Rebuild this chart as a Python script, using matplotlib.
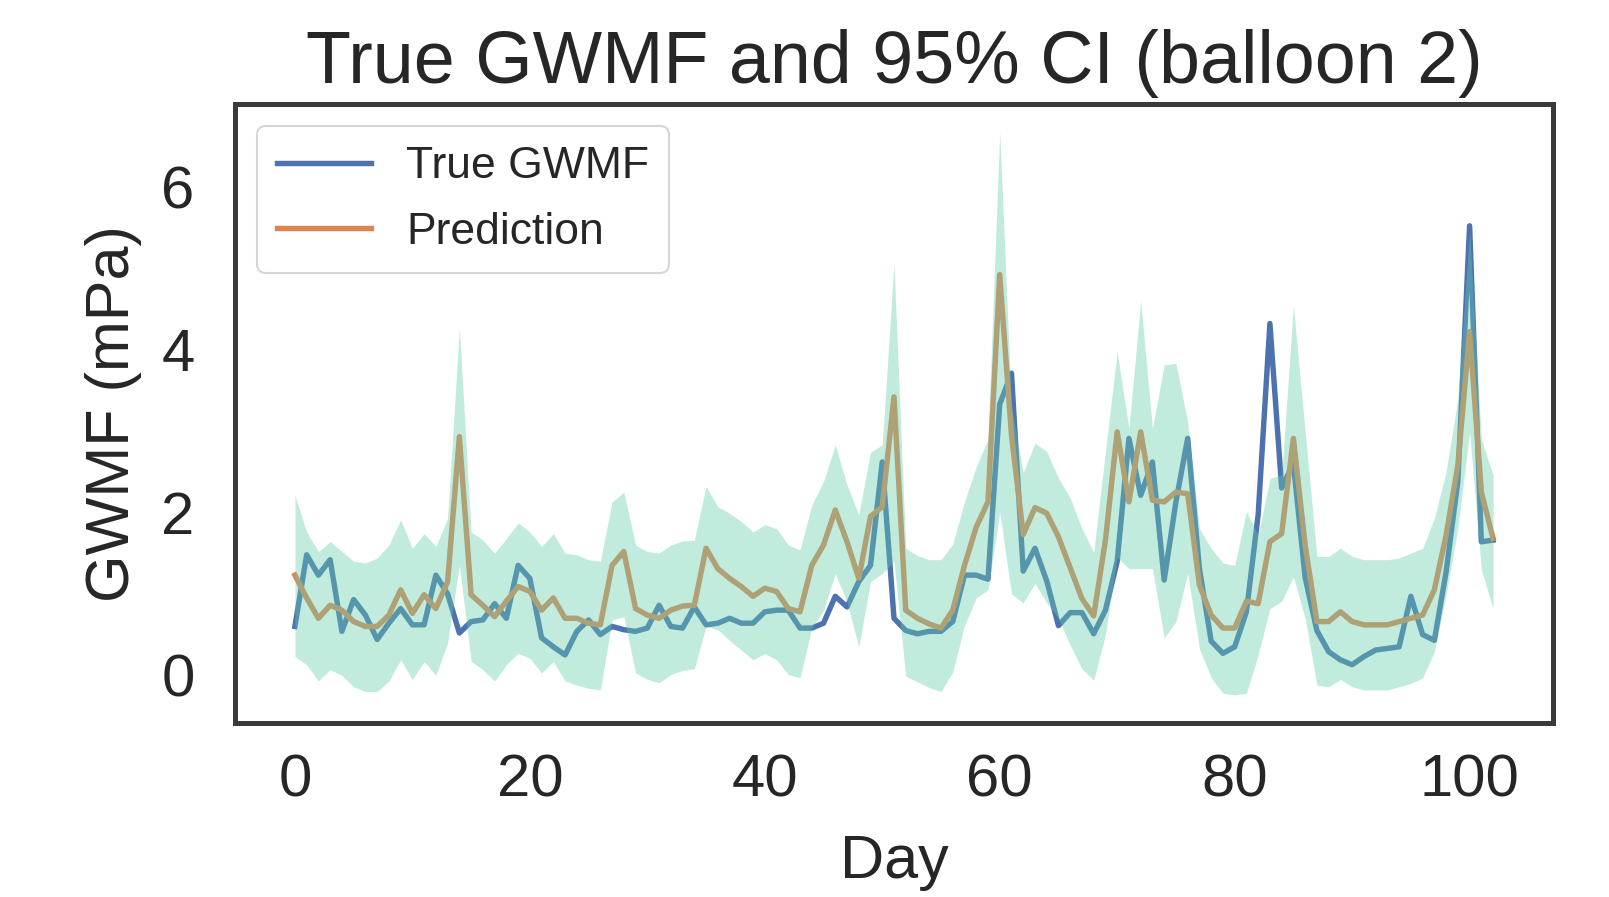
import matplotlib
matplotlib.use("Agg")
import matplotlib.pyplot as plt
import numpy as np

plt.rcParams['font.family'] = ['Liberation Sans', 'DejaVu Sans']

days = list(range(103))

true_gwmf = [
    0.60, 1.48, 1.23, 1.42, 0.54, 0.93, 0.74, 0.44, 0.64, 0.82,
    0.62, 0.62, 1.23, 1.00, 0.52, 0.66, 0.68, 0.88, 0.70, 1.35,
    1.19, 0.46, 0.35, 0.25, 0.54, 0.68, 0.50, 0.60, 0.56, 0.54,
    0.58, 0.86, 0.60, 0.58, 0.84, 0.62, 0.64, 0.70, 0.64, 0.64,
    0.78, 0.80, 0.80, 0.58, 0.58, 0.64, 0.97, 0.84, 1.15, 1.35,
    2.62, 0.70, 0.55, 0.51, 0.54, 0.54, 0.66, 1.23, 1.23, 1.18,
    3.33, 3.71, 1.28, 1.56, 1.16, 0.61, 0.77, 0.77, 0.51, 0.80,
    1.40, 2.91, 2.21, 2.62, 1.17, 2.13, 2.91, 1.31, 0.42, 0.27,
    0.35, 0.78, 1.97, 4.32, 2.30, 2.60, 1.20, 0.55, 0.29, 0.19,
    0.13, 0.23, 0.31, 0.33, 0.35, 0.97, 0.50, 0.43, 1.27, 2.38,
    5.52, 1.64, 1.66]

prediction = [
    1.23, 0.95, 0.70, 0.86, 0.80, 0.66, 0.60, 0.60, 0.74, 1.05,
    0.76, 0.99, 0.82, 1.15, 2.93, 0.99, 0.86, 0.72, 0.91, 1.09,
    1.03, 0.80, 0.95, 0.70, 0.70, 0.64, 0.62, 1.35, 1.52, 0.82,
    0.74, 0.70, 0.80, 0.85, 0.86, 1.56, 1.31, 1.19, 1.09, 0.97,
    1.07, 1.03, 0.82, 0.78, 1.35, 1.60, 2.03, 1.64, 1.19, 1.95,
    2.07, 3.42, 0.80, 0.70, 0.63, 0.58, 0.80, 1.35, 1.82, 2.13,
    4.92, 2.95, 1.73, 2.06, 1.99, 1.70, 1.32, 0.94, 0.73, 1.66,
    2.99, 2.13, 2.99, 2.15, 2.13, 2.25, 2.23, 1.11, 0.74, 0.58,
    0.58, 0.91, 0.88, 1.64, 1.74, 2.91, 1.60, 0.66, 0.66, 0.78,
    0.66, 0.62, 0.62, 0.62, 0.66, 0.70, 0.74, 1.05, 1.72, 2.58,
    4.22, 2.25, 1.68]

ci_upper = [
    2.21, 1.76, 1.52, 1.64, 1.52, 1.40, 1.38, 1.44, 1.60, 1.91,
    1.56, 1.74, 1.58, 1.93, 4.26, 1.76, 1.66, 1.50, 1.68, 1.87,
    1.76, 1.58, 1.74, 1.50, 1.48, 1.42, 1.40, 2.13, 2.25, 1.60,
    1.52, 1.50, 1.60, 1.65, 1.66, 2.32, 2.07, 1.99, 1.89, 1.76,
    1.85, 1.80, 1.60, 1.54, 2.09, 2.38, 2.83, 2.34, 1.97, 2.74,
    2.83, 5.05, 1.56, 1.47, 1.42, 1.42, 1.61, 2.13, 2.56, 2.90,
    6.67, 3.30, 2.49, 2.85, 2.75, 2.42, 2.18, 1.80, 1.51, 2.75,
    3.97, 3.03, 4.60, 3.03, 3.81, 3.83, 3.11, 1.80, 1.56, 1.38,
    1.35, 2.01, 1.72, 2.42, 2.46, 4.54, 2.99, 1.46, 1.46, 1.56,
    1.46, 1.42, 1.42, 1.42, 1.44, 1.50, 1.56, 1.93, 2.50, 3.40,
    5.45, 2.90, 2.46]

ci_lower = [
    0.23, 0.13, -0.07, 0.07, 0.00, -0.14, -0.20, -0.20, -0.07, 0.19,
    -0.05, 0.17, 0.00, 0.40, 1.35, 0.17, 0.07, -0.07, 0.13, 0.27,
    0.21, 0.03, 0.17, -0.07, -0.12, -0.16, -0.18, 0.68, 0.72, 0.03,
    -0.05, -0.09, 0.01, 0.06, 0.08, 0.60, 0.56, 0.43, 0.31, 0.19,
    0.27, 0.19, 0.01, -0.03, 0.58, 0.80, 1.25, 0.90, 0.35, 1.15,
    1.25, 1.40, -0.01, -0.08, -0.15, -0.20, 0.04, 0.61, 0.95, 1.05,
    2.00, 1.00, 0.89, 1.13, 0.89, 0.70, 0.37, 0.08, -0.06, 0.50,
    1.45, 1.31, 1.31, 1.31, 0.46, 0.66, 1.25, 0.33, -0.03, -0.22,
    -0.24, -0.22, 0.25, 0.82, 0.91, 1.21, 0.70, -0.12, -0.14, -0.05,
    -0.14, -0.18, -0.18, -0.18, -0.14, -0.10, -0.03, 0.29, 0.99, 1.80,
    2.99, 1.30, 0.82]

text_color = '#262626'
fig = plt.figure(figsize=(16.09, 8.97), dpi=100)
ax = fig.add_axes([235/1609, 1 - 723/897, (1553 - 235)/1609, (723 - 104)/897])

ax.plot(days, true_gwmf, color='#4C72B0', lw=3.9, label='True GWMF', zorder=2)
ax.plot(days, prediction, color='#DD8452', lw=3.9, label='Prediction', zorder=2)
ax.fill_between(days, ci_lower, ci_upper, color='mediumaquamarine', alpha=0.4,
                lw=0, zorder=3)

for s in ax.spines.values():
    s.set_color('#3a3a3a')
    s.set_linewidth(3.6)

ax.tick_params(axis='both', length=0, labelsize=43, colors=text_color)
ax.tick_params(axis='x', pad=22)
ax.tick_params(axis='y', pad=29)
ax.set_xlabel('Day', fontsize=44, color=text_color, labelpad=18)
ax.set_ylabel('GWMF (mPa)', fontsize=44, color=text_color, labelpad=14)
ax.set_title('True GWMF and 95% CI (balloon 2)', fontsize=53, color=text_color, pad=15)

leg = ax.legend(loc='upper left', fontsize=32, handlelength=2.1, handletextpad=0.8,
                borderpad=0.45, labelspacing=0.55, frameon=True, fancybox=True,
                borderaxespad=0.5)
leg.get_frame().set_edgecolor('#cccccc')
leg.get_frame().set_linewidth(1.5)
for t in leg.get_texts():
    t.set_color(text_color)
for l in leg.get_lines():
    l.set_linewidth(3.9)

fig.savefig('out.png', dpi=100)
